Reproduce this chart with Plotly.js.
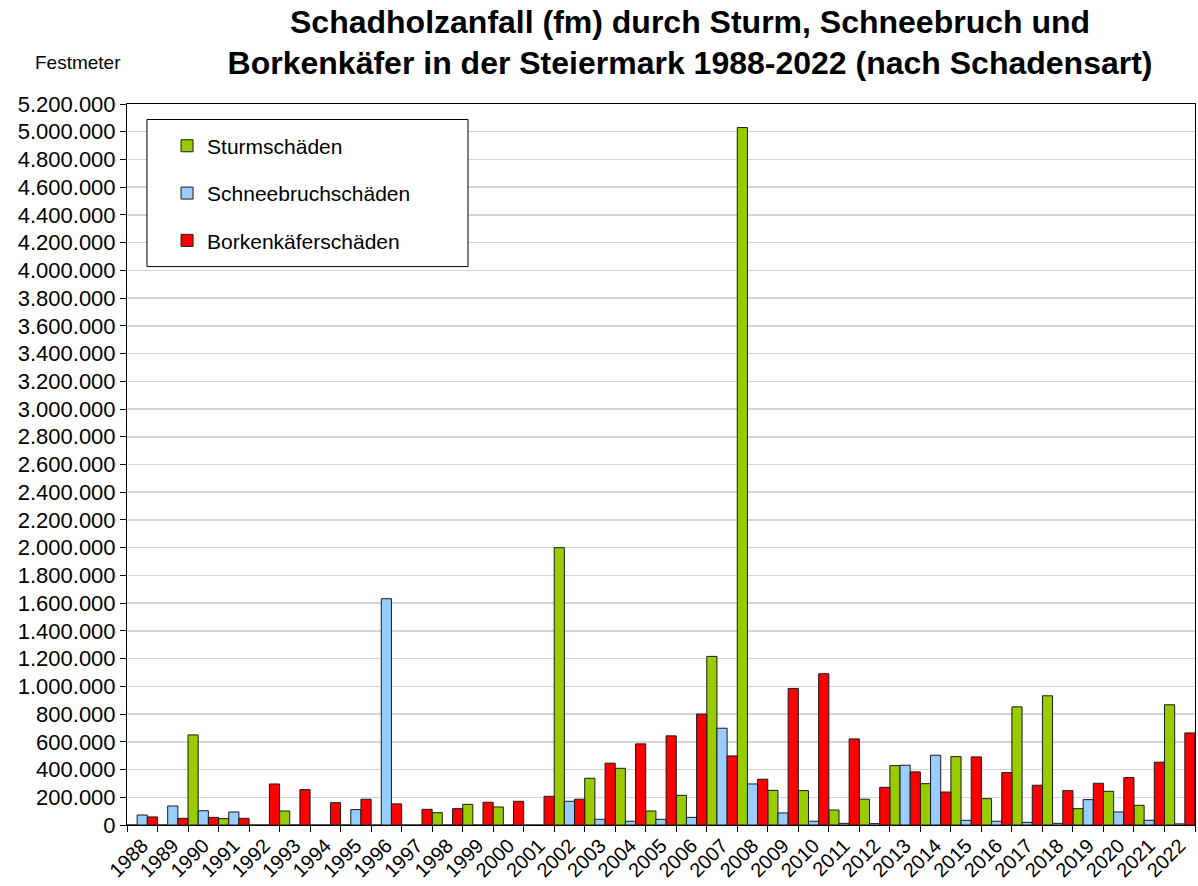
<!DOCTYPE html>
<html>
<head>
<meta charset="utf-8">
<script src="https://cdn.plot.ly/plotly-3.0.1.min.js"></script>
<style>
  html, body { margin: 0; padding: 0; background: #fff; }
  #chart { width: 1198px; height: 886px; }
</style>
</head>
<body>
<div id="chart"></div>
<script>
const years = ["1988","1989","1990","1991","1992","1993","1994","1995","1996","1997","1998","1999","2000","2001","2002","2003","2004","2005","2006","2007","2008","2009","2010","2011","2012","2013","2014","2015","2016","2017","2018","2019","2020","2021","2022"];

const sturm = [0, 0, 650000, 46000, 0, 101000, 0, 0, 0, 0, 89000, 149000, 130000, 0, 2000000, 337000, 409000, 101000, 214000, 1216000, 5030000, 250000, 248000, 108000, 186000, 428000, 298000, 493000, 190000, 852000, 932000, 118000, 243000, 142000, 867000];

const schnee = [72000, 137000, 103000, 94000, 0, 0, 0, 111000, 1632000, 0, 0, 0, 0, 0, 171000, 41000, 27000, 41000, 55000, 698000, 296000, 87000, 27000, 12000, 10000, 431000, 503000, 34000, 27000, 19000, 12000, 183000, 94000, 34000, 8000];

const kaefer = [58000, 48000, 55000, 48000, 296000, 255000, 161000, 186000, 152000, 113000, 118000, 164000, 171000, 207000, 186000, 446000, 585000, 643000, 800000, 498000, 330000, 985000, 1091000, 621000, 272000, 383000, 238000, 491000, 378000, 287000, 248000, 301000, 342000, 453000, 664000];

const seriesNames = ["Sturmschäden", "Schneebruchschäden", "Borkenkäferschäden"];
const seriesColors = ["#99CC00", "#99CCFF", "#FF0000"];
const yTicks = [0, 200000, 400000, 600000, 800000, 1000000, 1200000, 1400000, 1600000, 1800000, 2000000, 2200000, 2400000, 2600000, 2800000, 3000000, 3200000, 3400000, 3600000, 3800000, 4000000, 4200000, 4400000, 4600000, 4800000, 5000000, 5200000];

const FONT = "Liberation Sans, Arial, sans-serif";
const seriesData = [sturm, schnee, kaefer];

const traces = seriesData.map((vals, i) => ({
  type: "bar",
  x: years,
  y: vals,
  name: seriesNames[i],
  legendgroup: "g" + i,
  marker: { color: seriesColors[i], line: { color: "#1a1a1a", width: 1 } },
  hoverinfo: "x+y+name"
}));

const layout = {
  width: 1198,
  height: 886,
  paper_bgcolor: "#ffffff",
  plot_bgcolor: "#ffffff",
  separators: ",.",
  font: { family: FONT, color: "#000000" },
  margin: { l: 127, r: 3, t: 104, b: 61, pad: 0 },
  barmode: "group",
  bargap: 0,
  bargroupgap: 0,
  showlegend: true,
  title: {
    text: "Schadholzanfall (fm) durch Sturm, Schneebruch und<br>Borkenkäfer in der Steiermark 1988-2022 (nach Schadensart)",
    font: { family: FONT, size: 32, weight: "bold", color: "#000000" },
    x: 0.576,
    xanchor: "center",
    xref: "container",
    y: 0.963,
    yanchor: "top",
    yref: "container"
  },
  xaxis: {
    type: "category",
    tickangle: -45,
    tickfont: { family: FONT, size: 20, color: "#000000" },
    ticks: "outside",
    tickson: "boundaries",
    ticklen: 6,
    tickcolor: "#000000",
    showline: true,
    linecolor: "#000000",
    linewidth: 1,
    mirror: true,
    showgrid: false,
    zeroline: false
  },
  yaxis: {
    range: [0, 5200000],
    tickvals: yTicks,
    tickformat: ",d",
    tickfont: { family: FONT, size: 22, color: "#000000" },
    ticks: "outside",
    ticklen: 6,
    tickcolor: "#000000",
    showline: true,
    linecolor: "#000000",
    linewidth: 1,
    mirror: true,
    showgrid: true,
    gridcolor: "#d4d4d4",
    gridwidth: 1.5,
    zeroline: false
  },
  legend: {
    x: 0.0375,
    xanchor: "left",
    y: 0.97,
    yanchor: "top",
    bgcolor: "rgba(0,0,0,0)",
    borderwidth: 0,
    font: { family: FONT, size: 21, color: "#000000" },
    tracegroupgap: 17,
    traceorder: "grouped"
  },
  shapes: [{
    type: "rect",
    xref: "paper", yref: "paper",
    x0: 0.0187, x1: 0.3193, y0: 0.7745, y1: 0.9785,
    line: { color: "#000000", width: 1 },
    fillcolor: "#ffffff",
    layer: "above"
  }],
  annotations: [{
    text: "Festmeter",
    xref: "paper", yref: "paper",
    x: -0.0463, xanchor: "center",
    y: 1.058, yanchor: "middle",
    showarrow: false,
    font: { family: FONT, size: 19, color: "#000000" }
  }]
};

Plotly.newPlot("chart", traces, layout, { displayModeBar: false, staticPlot: true });
</script>
</body>
</html>
